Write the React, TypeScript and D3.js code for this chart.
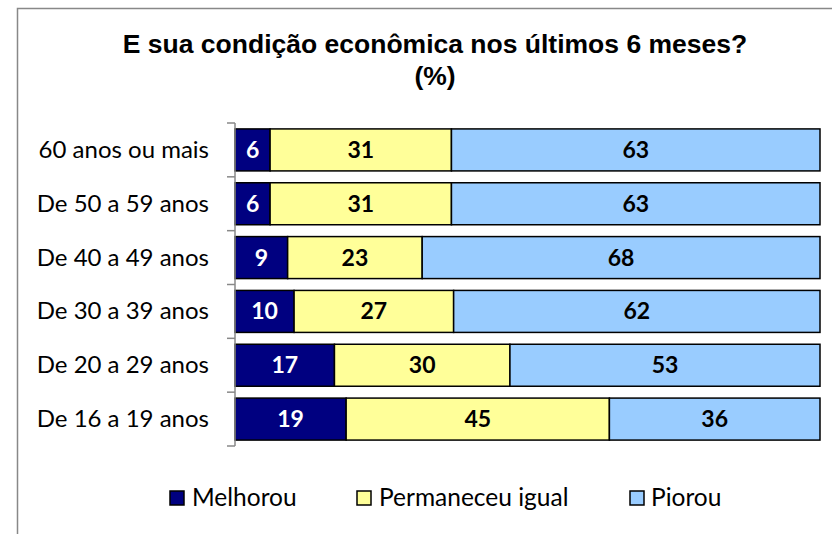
import React from "react";
import * as d3 from "d3";

const categories = ["60 anos ou mais", "De 50 a 59 anos", "De 40 a 49 anos", "De 30 a 39 anos", "De 20 a 29 anos", "De 16 a 19 anos"];
const melhorou = [6, 6, 9, 10, 17, 19];
const permaneceu = [31, 31, 23, 27, 30, 45];
const piorou = [63, 63, 68, 62, 53, 36];
const seriesNames = ["Melhorou", "Permaneceu igual", "Piorou"];
const seriesColors = ["#000080", "#FFFF99", "#99CCFF"];
const labelColors = ["#ffffff", "#000000", "#000000"];
const title1 = "E sua condição econômica nos últimos 6 meses?";
const title2 = "(%)";

const W = 832, H = 534;
const plot = { x0: 235, x1: 820, y0: 123, y1: 446 };
const sans = "Lato, 'Open Sans', sans-serif";

export default function App() {
  const x = d3.scaleLinear().domain([0, 1]).range([plot.x0, plot.x1]);
  const y = d3.scaleBand().domain(categories).range([plot.y0, plot.y1]).paddingInner(0.22).paddingOuter(0.11);
  const yOuter = d3.scaleBand().domain(categories).range([plot.y0, plot.y1]);
  const data = categories.map((c, i) => ({ cat: c, s0: melhorou[i], s1: permaneceu[i], s2: piorou[i] }));
  const stack = d3.stack<any>().keys(["s0", "s1", "s2"]).offset(d3.stackOffsetExpand)(data);
  const raw = [melhorou, permaneceu, piorou];
  const boundaries = categories.map((c) => yOuter(c)!).concat([plot.y1]);
  const legendItems = [
    { sx: 170, tx: 192 },
    { sx: 357, tx: 379 },
    { sx: 630, tx: 651 },
  ];
  return (
    <svg width={W} height={H} style={{ display: "block", position: "absolute", left: 0, top: 0 }}>
      <rect x={0} y={0} width={W} height={H} fill="#fff" />
      <path d={`M17.5,${H} V8.5 H${W}`} fill="none" stroke="#888" strokeWidth={1.5} />
      <text x={435} y={53} textAnchor="middle" fontFamily="'Liberation Sans', Arial, sans-serif" fontWeight="bold" fontSize={26.5}>{title1}</text>
      <text x={435} y={85} textAnchor="middle" fontFamily="'Liberation Sans', Arial, sans-serif" fontWeight="bold" fontSize={26.5}>{title2}</text>
      {stack.map((layer, si) => (
        <g key={si}>
          {layer.map((d, i) => (
            <g key={i}>
              <rect x={x(d[0])} y={y(categories[i])} width={x(d[1]) - x(d[0])} height={y.bandwidth()} fill={seriesColors[si]} stroke="#000" strokeWidth={1.5} />
              <text x={(x(d[0]) + x(d[1])) / 2} y={y(categories[i])! + y.bandwidth() / 2 + 8} textAnchor="middle" fontFamily={sans} fontWeight="bold" fontSize={23} fill={labelColors[si]}>{raw[si][i]}</text>
            </g>
          ))}
        </g>
      ))}
      <line x1={plot.x0} x2={plot.x0} y1={plot.y0} y2={plot.y1} stroke="#888" strokeWidth={1.5} />
      {boundaries.map((b, i) => (
        <line key={i} x1={plot.x0 - 8} x2={plot.x0} y1={b} y2={b} stroke="#888" strokeWidth={1.5} />
      ))}
      {categories.map((c, i) => (
        <text key={c} x={209} y={yOuter(c)! + yOuter.bandwidth() / 2 + 8} textAnchor="end" fontFamily={sans} fontSize={24}>{c}</text>
      ))}
      {seriesNames.map((n, i) => (
        <g key={n}>
          <rect x={legendItems[i].sx} y={491} width={14} height={14} fill={seriesColors[i]} stroke="#000" strokeWidth={1.5} />
          <text x={legendItems[i].tx} y={506} fontFamily={sans} fontSize={24.5}>{n}</text>
        </g>
      ))}
    </svg>
  );
}
